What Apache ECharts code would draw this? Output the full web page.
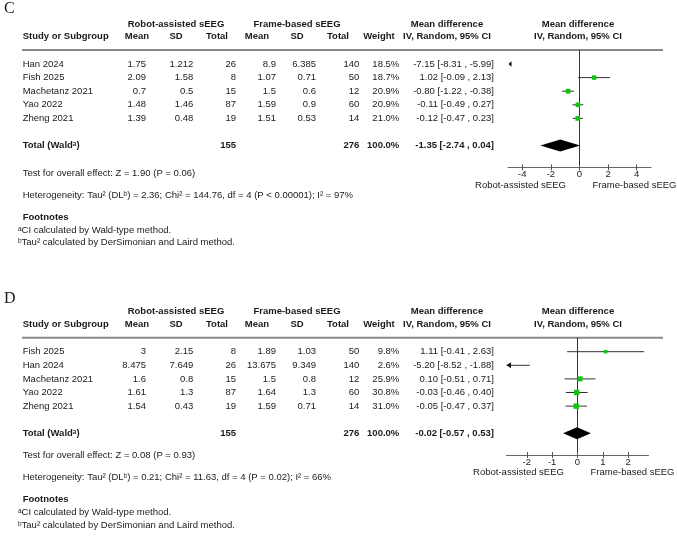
<!DOCTYPE html>
<html>
<head>
<meta charset="utf-8">
<script src="https://cdn.jsdelivr.net/npm/echarts@6/dist/echarts.min.js"></script>
<style>
html, body { margin: 0; padding: 0; background: #fff; }
#chart { width: 677px; height: 548px; }
</style>
</head>
<body>
<div id="chart"></div>
<script>
// ---- panel C data ----
const studiesC = ['Han 2024', 'Fish 2025', 'Machetanz 2021', 'Yao 2022', 'Zheng 2021']
const robotMeanC = [1.75, 2.09, 0.7, 1.48, 1.39]
const robotSdC = [1.212, 1.58, 0.5, 1.46, 0.48]
const robotTotalC = [26, 8, 15, 87, 19]
const frameMeanC = [8.9, 1.07, 1.5, 1.59, 1.51]
const frameSdC = [6.385, 0.71, 0.6, 0.9, 0.53]
const frameTotalC = [140, 50, 12, 60, 14]
const weightC = [18.5, 18.7, 20.9, 20.9, 21.0]
const mdC = [-7.15, 1.02, -0.80, -0.11, -0.12]
const loC = [-8.31, -0.09, -1.22, -0.49, -0.47]
const hiC = [-5.99, 2.13, -0.38, 0.27, 0.23]
const totalsC = [155, 276, 100.0]
const pooledC = [-1.35, -2.74, 0.04]
const ticksC = [-4, -2, 0, 2, 4]
const rangeC = [-5, 5]
const testC = 'Test for overall effect: Z = 1.90 (P = 0.06)'
const hetC = 'Heterogeneity: Tau² (DLᵇ) = 2.36; Chi² = 144.76, df = 4 (P < 0.00001); I² = 97%'

// ---- panel D data ----
const studiesD = ['Fish 2025', 'Han 2024', 'Machetanz 2021', 'Yao 2022', 'Zheng 2021']
const robotMeanD = [3, 8.475, 1.6, 1.61, 1.54]
const robotSdD = [2.15, 7.649, 0.8, 1.3, 0.43]
const robotTotalD = [8, 26, 15, 87, 19]
const frameMeanD = [1.89, 13.675, 1.5, 1.64, 1.59]
const frameSdD = [1.03, 9.349, 0.8, 1.3, 0.71]
const frameTotalD = [50, 140, 12, 60, 14]
const weightD = [9.8, 2.6, 25.9, 30.8, 31.0]
const mdD = [1.11, -5.20, 0.10, -0.03, -0.05]
const loD = [-0.41, -8.52, -0.51, -0.46, -0.47]
const hiD = [2.63, -1.88, 0.71, 0.40, 0.37]
const totalsD = [155, 276, 100.0]
const pooledD = [-0.02, -0.57, 0.53]
const ticksD = [-2, -1, 0, 1, 2]
const rangeD = [-2.8, 2.8]
const testD = 'Test for overall effect: Z = 0.08 (P = 0.93)'
const hetD = 'Heterogeneity: Tau² (DLᵇ) = 0.21; Chi² = 11.63, df = 4 (P = 0.02); I² = 66%'

const FONT = '"Liberation Sans", Arial, sans-serif'
const ROW_H = 13.6

const fmtCI = (m, l, h) => m.toFixed(2) + ' [' + l.toFixed(2) + ' , ' + h.toFixed(2) + ']'

function txt(x, y, text, align, bold, size, family) {
  return {
    type: 'text',
    silent: true,
    style: {
      x: x, y: y, text: text,
      fill: '#1a1a1a',
      align: align || 'left',
      verticalAlign: 'middle',
      font: (bold ? 'bold ' : '') + (size || 9.5) + 'px ' + (family || FONT)
    }
  }
}

// study rows: CI line + weighted square, arrows when off the scale
function studyRender(xMin, xMax) {
  return function (params, api) {
    const est = api.value(0), lo = api.value(1), hi = api.value(2), row = api.value(3), w = api.value(4)
    const y = api.coord([0, row])[1]
    const left = api.coord([xMin, row])[0]
    const children = []
    if (hi < xMin) {
      children.push({ type: 'polygon', shape: { points: [[left + 0.5, y], [left + 3.5, y - 2.8], [left + 3.5, y + 2.8]] }, style: { fill: '#111' } })
      return { type: 'group', children: children }
    }
    const x1 = api.coord([Math.max(lo, xMin), row])[0]
    const x2 = api.coord([Math.min(hi, xMax), row])[0]
    children.push({ type: 'line', shape: { x1: x1, y1: y, x2: x2, y2: y }, style: { stroke: '#333', lineWidth: 1 } })
    if (lo < xMin) {
      children.push({ type: 'polygon', shape: { points: [[x1, y], [x1 + 4.5, y - 3], [x1 + 4.5, y + 3]] }, style: { fill: '#111' } })
    }
    if (est >= xMin && est <= xMax) {
      const p = api.coord([est, row])
      const s = 1 + 0.8 * Math.sqrt(w)
      children.push({ type: 'rect', shape: { x: p[0] - s / 2, y: p[1] - s / 2, width: s, height: s }, style: { fill: '#12c412' } })
    }
    return { type: 'group', children: children }
  }
}

function diamondRender(params, api) {
  const row = api.value(3)
  const pe = api.coord([api.value(0), row])
  const pl = api.coord([api.value(1), row])
  const ph = api.coord([api.value(2), row])
  return {
    type: 'polygon',
    shape: { points: [pl, [pe[0], pe[1] - 6], ph, [pe[0], pe[1] + 6]] },
    style: { fill: '#000' }
  }
}

const grids = []
const xAxes = []
const yAxes = []
const series = []
const graphics = []

function buildPanel(p) {
  const gi = grids.length
  const dy = p.dy
  const row0 = 64 + dy
  grids.push({ left: p.gridLeft, width: p.gridWidth, top: row0 - ROW_H, height: ROW_H * 8.6 })
  const axisBase = {
    type: 'value', gridIndex: gi, position: 'bottom',
    min: p.range[0], max: p.range[1],
    splitLine: { show: false }
  }
  xAxes.push(Object.assign({}, axisBase, {
    axisLine: { show: true, onZero: false, lineStyle: { color: '#666', width: 1 } },
    axisTick: { show: true, length: 3, customValues: p.ticks, lineStyle: { color: '#555' } },
    axisLabel: { show: true, customValues: p.ticks, margin: 2, fontSize: 9.5, fontFamily: FONT, color: '#222' }
  }))
  xAxes.push(Object.assign({}, axisBase, {
    axisLine: { show: false, onZero: false },
    axisTick: { show: true, inside: true, length: 3, customValues: p.ticks, lineStyle: { color: '#555' } },
    axisLabel: { show: false }
  }))
  yAxes.push({
    type: 'value', gridIndex: gi, inverse: true, min: -1, max: 7.6,
    axisLine: { show: true, onZero: true, lineStyle: { color: '#333', width: 1 } },
    axisTick: { show: false }, axisLabel: { show: false }, splitLine: { show: false }
  })
  const xi = xAxes.length - 2
  series.push({
    type: 'custom', xAxisIndex: xi, yAxisIndex: gi, z: 5,
    renderItem: studyRender(p.range[0], p.range[1]),
    data: p.studies.map((s, i) => [p.md[i], p.lo[i], p.hi[i], i, p.weight[i]])
  })
  series.push({
    type: 'custom', xAxisIndex: xi, yAxisIndex: gi, z: 5,
    renderItem: diamondRender,
    data: [[p.pooled[0], p.pooled[1], p.pooled[2], 6]]
  })

  // panel letter and table headers
  graphics.push(txt(4, 8.3 + p.dyLetter, p.letter, 'left', false, 16, '"Liberation Serif", "Times New Roman", serif'))
  const h1 = 24 + dy, h2 = 36.5 + dy
  graphics.push(txt(176, h1, 'Robot-assisted sEEG', 'center', true))
  graphics.push(txt(297, h1, 'Frame-based sEEG', 'center', true))
  graphics.push(txt(447, h1, 'Mean difference', 'center', true))
  graphics.push(txt(578, h1, 'Mean difference', 'center', true))
  graphics.push(txt(22.7, h2, 'Study or Subgroup', 'left', true))
  graphics.push(txt(137, h2, 'Mean', 'center', true))
  graphics.push(txt(176, h2, 'SD', 'center', true))
  graphics.push(txt(217, h2, 'Total', 'center', true))
  graphics.push(txt(257, h2, 'Mean', 'center', true))
  graphics.push(txt(297, h2, 'SD', 'center', true))
  graphics.push(txt(338, h2, 'Total', 'center', true))
  graphics.push(txt(379, h2, 'Weight', 'center', true))
  graphics.push(txt(447, h2, 'IV, Random, 95% CI', 'center', true))
  graphics.push(txt(578, h2, 'IV, Random, 95% CI', 'center', true))
  graphics.push({
    type: 'line', silent: true,
    shape: { x1: 22, y1: 50 + dy, x2: 663, y2: 50 + dy },
    style: { stroke: '#888', lineWidth: 2 }
  })

  // study rows
  p.studies.forEach((s, i) => {
    const y = row0 + i * ROW_H
    graphics.push(txt(22.7, y, s, 'left'))
    graphics.push(txt(146, y, String(p.rMean[i]), 'right'))
    graphics.push(txt(193.3, y, String(p.rSd[i]), 'right'))
    graphics.push(txt(236, y, String(p.rTotal[i]), 'right'))
    graphics.push(txt(276, y, String(p.fMean[i]), 'right'))
    graphics.push(txt(316, y, String(p.fSd[i]), 'right'))
    graphics.push(txt(359.3, y, String(p.fTotal[i]), 'right'))
    graphics.push(txt(399.3, y, p.weight[i].toFixed(1) + '%', 'right'))
    graphics.push(txt(494, y, fmtCI(p.md[i], p.lo[i], p.hi[i]), 'right'))
  })

  // total row
  const ty = row0 + 6 * ROW_H
  graphics.push(txt(22.7, ty, 'Total (Waldᵃ)', 'left', true))
  graphics.push(txt(236, ty, String(p.totals[0]), 'right', true))
  graphics.push(txt(359.3, ty, String(p.totals[1]), 'right', true))
  graphics.push(txt(399.3, ty, p.totals[2].toFixed(1) + '%', 'right', true))
  graphics.push(txt(494, ty, fmtCI(p.pooled[0], p.pooled[1], p.pooled[2]), 'right', true))

  // axis side labels
  const zx = p.gridLeft + p.gridWidth * (0 - p.range[0]) / (p.range[1] - p.range[0])
  graphics.push(txt(zx - 59, 185 + dy, 'Robot-assisted sEEG', 'center'))
  graphics.push(txt(zx + 55, 185 + dy, 'Frame-based sEEG', 'center'))

  // bottom notes
  const bt = p.dyText
  graphics.push(txt(22.7, 173.3 + bt, p.test, 'left'))
  graphics.push(txt(22.7, 195 + bt, p.het, 'left'))
  graphics.push(txt(22.7, 217.3 + bt, 'Footnotes', 'left', true))
  graphics.push(txt(18, 230 + bt, 'ᵃCI calculated by Wald-type method.', 'left', false, 9.5))
  graphics.push(txt(18, 242.7 + bt, 'ᵇTau² calculated by DerSimonian and Laird method.', 'left', false, 9.5))
}

buildPanel({
  letter: 'C', dy: 0, dyText: 0, dyLetter: 0,
  gridLeft: 508, gridWidth: 143, range: rangeC, ticks: ticksC,
  studies: studiesC, rMean: robotMeanC, rSd: robotSdC, rTotal: robotTotalC,
  fMean: frameMeanC, fSd: frameSdC, fTotal: frameTotalC,
  weight: weightC, md: mdC, lo: loC, hi: hiC,
  totals: totalsC, pooled: pooledC, test: testC, het: hetC
})
buildPanel({
  letter: 'D', dy: 287.7, dyText: 282.4, dyLetter: 290,
  gridLeft: 506.5, gridWidth: 142, range: rangeD, ticks: ticksD,
  studies: studiesD, rMean: robotMeanD, rSd: robotSdD, rTotal: robotTotalD,
  fMean: frameMeanD, fSd: frameSdD, fTotal: frameTotalD,
  weight: weightD, md: mdD, lo: loD, hi: hiD,
  totals: totalsD, pooled: pooledD, test: testD, het: hetD
})

const myChart = echarts.init(document.getElementById('chart'), null, { renderer: 'canvas' })
myChart.setOption({
  backgroundColor: '#fff',
  animation: false,
  grid: grids,
  xAxis: xAxes,
  yAxis: yAxes,
  series: series,
  graphic: graphics
})
</script>
</body>
</html>
